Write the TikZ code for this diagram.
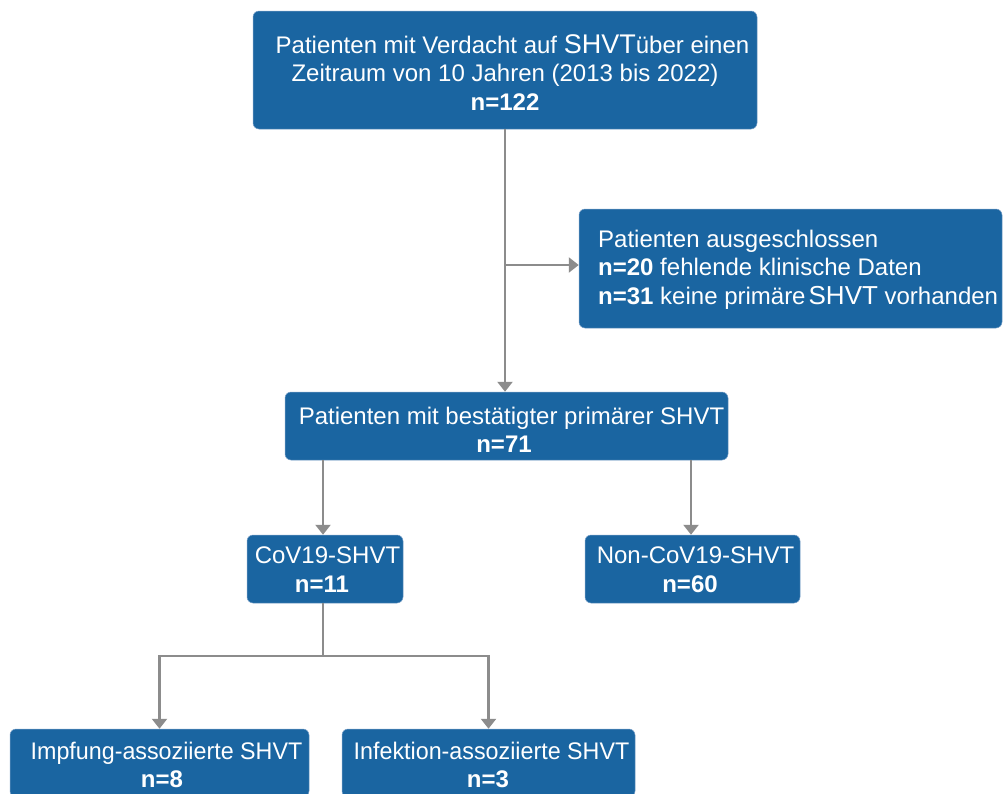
\documentclass[tikz,border=0pt]{standalone}
\usepackage{fontspec}
\setmainfont{Liberation Sans}
\usetikzlibrary{arrows.meta}
\definecolor{boxblue}{RGB}{26,101,161}
\definecolor{boxedge}{RGB}{120,160,200}
\definecolor{linegray}{RGB}{140,140,140}
\newcommand{\fsn}{\fontsize{24}{28.5}\selectfont}
\newcommand{\fsbig}{\fontsize{27}{28.5}\selectfont}
\newcommand{\fsmid}{\fontsize{26}{28.5}\selectfont}
\begin{document}
\begin{tikzpicture}[x=1pt,y=-1pt,
  flowbox/.style={rectangle, fill=boxblue, draw=boxedge, line width=0.5pt, rounded corners=6pt, inner sep=0pt},
  txt/.style={text=white, anchor=base, inner sep=0pt, font=\fsn},
  txtl/.style={txt, anchor=base west},
  link/.style={draw=linegray, line width=2.4pt},
  conn/.style={link, -{Triangle[width=15pt,length=10pt]}}]
\useasboundingbox (0,0) rectangle (1004,793);
\clip (0,0) rectangle (1004,793);
\fill[white] (0,0) rectangle (1004,793);

% boxes
\node[flowbox, minimum width=504pt, minimum height=118pt] (top) at (505,70) {};
\node[flowbox, minimum width=423pt, minimum height=119pt] (excl) at (790.5,268.5) {};
\node[flowbox, minimum width=443pt, minimum height=68pt] (mid) at (506.5,426) {};
\node[flowbox, minimum width=156pt, minimum height=68pt] (cov) at (325,569) {};
\node[flowbox, minimum width=215pt, minimum height=68pt] (non) at (692.5,569) {};
\node[flowbox, minimum width=299pt, minimum height=68pt] (imp) at (159.5,763) {};
\node[flowbox, minimum width=293pt, minimum height=68pt] (inf) at (488.5,763) {};

% texts
\node[txt] (t1) at (512.5,53) {Patienten mit Verdacht auf {\fsbig SHVT}über einen};
\node[txt] (t2) at (505,81.5) {Zeitraum von 10 Jahren (2013 bis 2022)};
\node[txt] (t3) at (505,110) {\bfseries n=122};

\node[txtl] (e1) at (598,247) {Patienten ausgeschlossen};
\node[txtl] (e2) at (598,275.5) {\bfseries n=20\mdseries{} fehlende klinische Daten};
\node[txtl] (e3) at (598,304) {\bfseries n=31\mdseries{} keine primäre\kern3pt{\fsmid SHVT} vorhanden};

\node[txt] (m1) at (511.5,424) {Patienten mit bestätigter primärer SHVT};
\node[txt] (m2) at (504,452) {\bfseries n=71};

\node[txt] (c1) at (327.5,563) {CoV19-SHVT};
\node[txt] (c2) at (322,592) {\bfseries n=11};

\node[txt] (n1) at (695.5,563) {Non-CoV19-SHVT};
\node[txt] (n2) at (690,592) {\bfseries n=60};

\node[txt] (i1) at (166.5,759) {\scalebox{0.97}[1]{Impfung-assoziierte SHVT}};
\node[txt] (i2) at (162,787) {\bfseries n=8};

\node[txt] (f1) at (491.5,759) {\scalebox{0.97}[1]{Infektion-assoziierte SHVT}};
\node[txt] (f2) at (488,787) {\bfseries n=3};

% connectors
\coordinate (j1) at (505,265);
\coordinate (j2) at (323,656);
\draw[conn] (top.south) -- (top.south |- mid.north);
\draw[conn] (j1) -- (j1 -| excl.west);
\draw[conn] ([xshift=-2pt]cov.north |- mid.south) -- ([xshift=-2pt]cov.north);
\draw[conn] ([xshift=-1.5pt]non.north |- mid.south) -- ([xshift=-1.5pt]non.north);
\draw[link] (j2 |- cov.south) -- (j2);
\draw[conn] (j2) -| (imp.north);
\draw[conn] (j2) -| (inf.north);
\end{tikzpicture}
\end{document}
